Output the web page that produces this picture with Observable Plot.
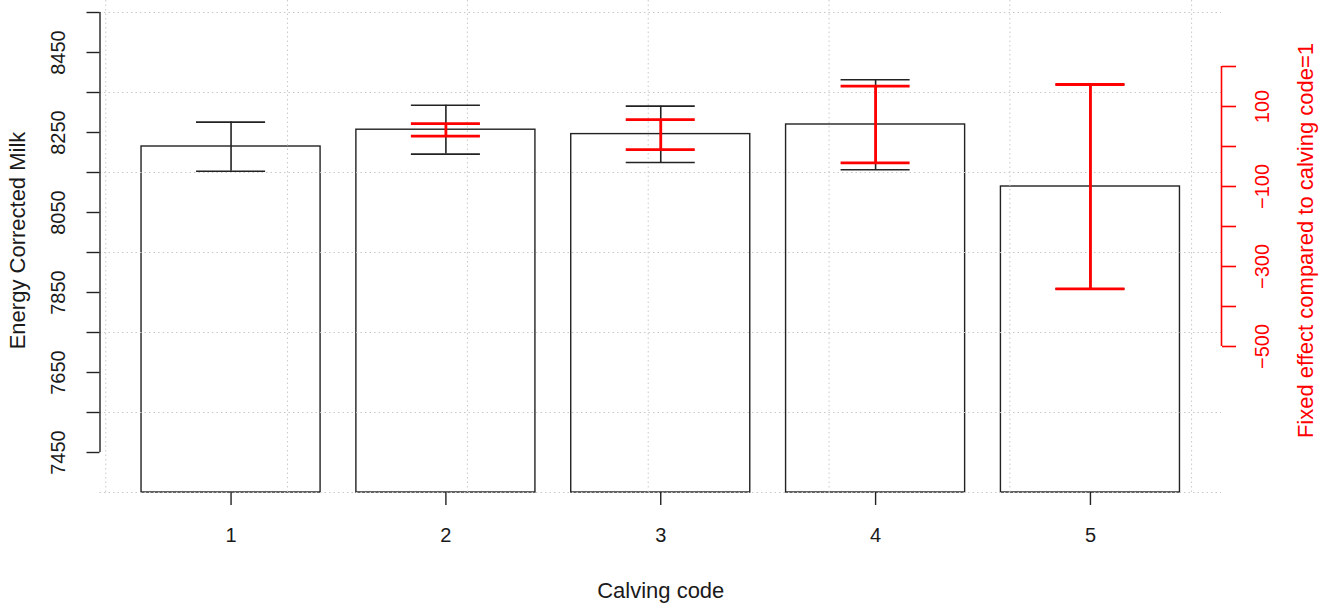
<!DOCTYPE html>
<html><head><meta charset="utf-8">
<script src="https://cdn.jsdelivr.net/npm/d3@7"></script>
<script src="https://cdn.jsdelivr.net/npm/@observablehq/plot@0.6"></script>
<style>body{margin:0;background:#fff;} svg{display:block;}</style>
</head><body><div id="chart"></div>
<script>
// ---- data ----
const categories = ["1", "2", "3", "4", "5"];
const ecmMean = [8215, 8257, 8246, 8270, 8115];
const ecmLow  = [8153, 8196, 8175, 8157, 7859];
const ecmHigh = [8276, 8318, 8316, 8382, 8370];
const effectCodes = ["2", "3", "4", "5"];
const effectLow  = [26, -8, -41, -356];
const effectHigh = [57, 67, 151, 155];
const leftTicks = [7450, 7550, 7650, 7750, 7850, 7950, 8050, 8150, 8250, 8350, 8450, 8550];
const leftLabels = [7450, 7650, 7850, 8050, 8250, 8450];
const rightTicks = [-500, -400, -300, -200, -100, 0, 100, 200];
const rightLabels = [-500, -300, -100, 100];
const gridY = [7350, 7550, 7750, 7950, 8150, 8350, 8550];
const gridX = [0, 1.015, 2.02, 3.03, 4.04, 5.05, 6.065];

// ---- barplot layout (width 1, space 0.2) ----
const barW = 1, space = 0.2;
const bars = categories.map((c, i) => {
  const left = space + i * (barW + space);
  return {cat: c, left, right: left + barW, mid: left + barW / 2,
          mean: ecmMean[i], low: ecmLow[i], high: ecmHigh[i]};
});
const base = ecmMean[0]; // fixed effects relative to calving code 1
const effects = effectCodes.map((c, i) => {
  const b = bars[categories.indexOf(c)];
  return {cat: c, left: b.left, right: b.right, mid: b.mid,
          low: effectLow[i] + base, high: effectHigh[i] + base};
});
const xDomain = [-0.032, 6.232];
const yDomain = [7350, 8580];
const minus = d => String(d).replace("-", "\u2212");
const RED = "#ff0000";
const INK = "#1a1a1a";
const capInset = 55;
const gridStyle = {stroke: "#c8c8c8", strokeDasharray: "1.5,3", strokeWidth: 1};
const txt = {textAnchor: "middle", lineAnchor: "middle"};

const plot = Plot.plot({
  width: 1319, height: 604,
  marginLeft: 99.5, marginRight: 98, marginTop: 0, marginBottom: 112,
  style: {fontFamily: "'Liberation Sans', Arial, Helvetica, sans-serif", fontSize: "20px", background: "white", color: "black", overflow: "visible"},
  x: {type: "linear", domain: xDomain, axis: null},
  y: {type: "linear", domain: yDomain, axis: null},
  marks: [
    // bars (bottom at the edge of the plot region)
    Plot.rect(bars, {x1: "left", x2: "right", y1: yDomain[0], y2: "mean", fill: "white", stroke: "#222", strokeWidth: 1.4}),
    // grid
    Plot.ruleY(gridY, {y: d => d, ...gridStyle}),
    Plot.ruleX(gridX, {x: d => d, ...gridStyle}),
    // black CI
    Plot.ruleX(bars, {x: "mid", y1: "low", y2: "high", stroke: "#222", strokeWidth: 1.6}),
    Plot.ruleY(bars, {y: "low", x1: "left", x2: "right", insetLeft: capInset, insetRight: capInset, stroke: "#222", strokeWidth: 1.6}),
    Plot.ruleY(bars, {y: "high", x1: "left", x2: "right", insetLeft: capInset, insetRight: capInset, stroke: "#222", strokeWidth: 1.6}),
    // red fixed-effect CI
    Plot.ruleX(effects, {x: "mid", y1: "low", y2: "high", stroke: RED, strokeWidth: 2.8}),
    Plot.ruleY(effects, {y: "low", x1: "left", x2: "right", insetLeft: capInset, insetRight: capInset, stroke: RED, strokeWidth: 2.8}),
    Plot.ruleY(effects, {y: "high", x1: "left", x2: "right", insetLeft: capInset, insetRight: capInset, stroke: RED, strokeWidth: 2.8}),
    // left axis
    Plot.ruleX([xDomain[0]], {x: d => d, y1: leftTicks[0], y2: leftTicks[leftTicks.length - 1], stroke: "#222", strokeWidth: 1.4}),
    Plot.axisY(leftTicks, {anchor: "left", tickSize: 13, tickFormat: () => "", stroke: "#222", strokeWidth: 1.4}),
    Plot.text(leftLabels, {y: d => d, text: d => minus(d), frameAnchor: "left", rotate: -90, dx: -41, fontSize: 20, fill: INK, ...txt}),
    Plot.text(["Energy Corrected Milk"], {frameAnchor: "left", rotate: -90, dx: -82, dy: -6, fontSize: 22, fill: INK, ...txt}),
    // right (red) axis
    Plot.ruleX([xDomain[1]], {x: d => d, y1: rightTicks[0] + base, y2: rightTicks[rightTicks.length - 1] + base, stroke: RED, strokeWidth: 1.6}),
    Plot.axisY(rightTicks.map(t => t + base), {anchor: "right", tickSize: 14, tickFormat: () => "", stroke: RED, strokeWidth: 1.6}),
    Plot.text(rightLabels, {y: d => d + base, text: d => minus(d), frameAnchor: "right", rotate: -90, dx: 41, fontSize: 20, fill: RED, ...txt}),
    Plot.text(["Fixed effect compared to calving code=1"], {frameAnchor: "right", rotate: -90, dx: 84, dy: -6, fontSize: 22, fill: RED, ...txt}),
    // x axis
    Plot.axisX(bars.map(b => b.mid), {anchor: "bottom", tickSize: 13, tickFormat: () => "", stroke: "#222", strokeWidth: 1.4}),
    Plot.text(bars, {x: "mid", text: "cat", frameAnchor: "bottom", dy: 43, fontSize: 20, fill: INK, ...txt}),
    Plot.text(["Calving code"], {frameAnchor: "bottom", dy: 98, fontSize: 22, fill: INK, ...txt})
  ]
});
document.getElementById("chart").appendChild(plot);
</script>
</body></html>
